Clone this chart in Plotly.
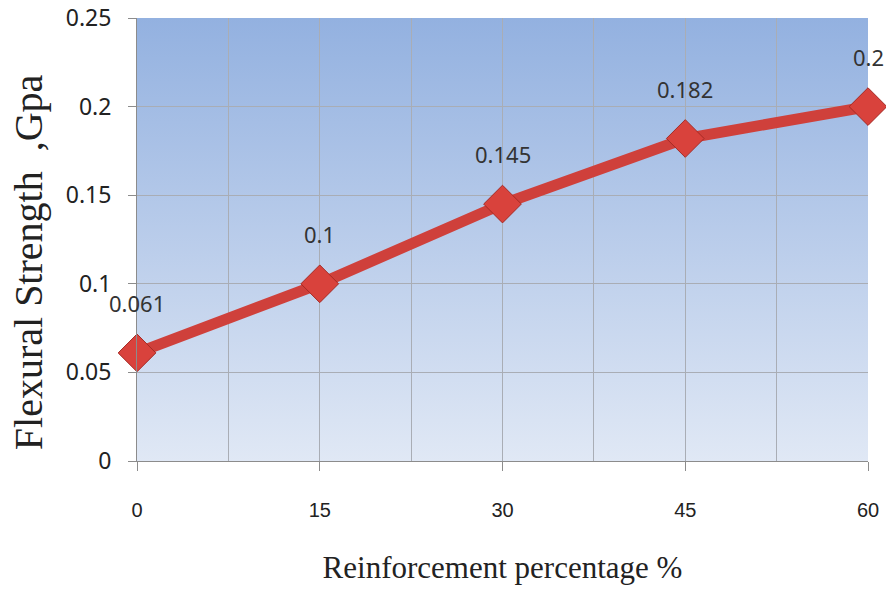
import base64
import plotly.graph_objects as go

# Flexural strength vs. reinforcement content
reinforcement_pct = [0, 15, 30, 45, 60]
flexural_gpa = [0.061, 0.1, 0.145, 0.182, 0.2]
value_labels = ["0.061", "0.1", "0.145", "0.182", "0.2"]

x_range = [0, 60]
y_range = [0, 0.25]
y_ticks = [0, 0.05, 0.1, 0.15, 0.2, 0.25]
y_tick_text = ["0", "0.05", "0.1", "0.15", "0.2", "0.25"]
x_ticks = [0, 15, 30, 45, 60]

# vertical blue gradient used as the plot-area backdrop (sits under the grid)
grad_svg = (
    '<svg xmlns="http://www.w3.org/2000/svg" width="100" height="100" preserveAspectRatio="none">'
    '<defs><linearGradient id="g" x1="0" y1="0" x2="0" y2="1">'
    '<stop offset="0" stop-color="#93b1e0"/>'
    '<stop offset="1" stop-color="#e0e8f5"/>'
    '</linearGradient></defs>'
    '<rect width="100" height="100" fill="url(#g)"/></svg>'
)
grad_uri = "data:image/svg+xml;base64," + base64.b64encode(grad_svg.encode()).decode()

fig = go.Figure()

fig.add_trace(go.Scatter(
    x=reinforcement_pct, y=flexural_gpa,
    mode="lines+markers",
    line=dict(color="#cf403b", width=11),
    marker=dict(symbol="diamond", size=29, color="#d9423c",
                line=dict(color="#a52a24", width=1)),
    showlegend=False, cliponaxis=False,
))

# value labels above each point
for xv, yv, lab in zip(reinforcement_pct, flexural_gpa, value_labels):
    fig.add_annotation(
        x=xv, y=yv, text=lab, showarrow=False, yshift=50,
        font=dict(family="Noto Sans, Open Sans, sans-serif", size=22, color="#333333"),
    )

# y-axis title, placed by hand so it can sit a little below centre
fig.add_annotation(
    text="Flexural Strength\u00a0 ,Gpa", textangle=-90,
    xref="paper", yref="paper", x=-0.149, y=0.449,
    xanchor="center", yanchor="middle", showarrow=False,
    font=dict(family="Liberation Serif, Times New Roman, serif", size=40, color="#222222"),
)

fig.add_layout_image(
    source=grad_uri, xref="x", yref="y",
    x=x_range[0], y=y_range[1], sizex=x_range[1] - x_range[0], sizey=y_range[1] - y_range[0],
    xanchor="left", yanchor="top", sizing="stretch", layer="below",
)

grid_col = "#a9adb5"
fig.update_xaxes(
    range=x_range, tickvals=x_ticks, ticktext=[str(v) for v in x_ticks],
    automargin=False,
    showgrid=True, gridcolor=grid_col, gridwidth=1,
    minor=dict(dtick=7.5, showgrid=True, gridcolor=grid_col, gridwidth=1, tick0=0),
    showline=True, linecolor="#8c8c8c", linewidth=1,
    ticks="outside", ticklen=9, tickcolor="#8c8c8c",
    ticklabelstandoff=22,
    tickfont=dict(family="Liberation Sans Narrow, Arial Narrow, Liberation Sans, sans-serif",
                  size=20, color="#222222"),
    title=dict(text="Reinforcement percentage %", standoff=36,
               font=dict(family="Liberation Serif, Times New Roman, serif", size=31, color="#222222")),
    zeroline=False,
)
fig.update_yaxes(
    range=y_range, tickvals=y_ticks, ticktext=y_tick_text,
    automargin=False,
    showgrid=True, gridcolor=grid_col, gridwidth=1,
    showline=True, linecolor="#8c8c8c", linewidth=1,
    ticks="outside", ticklen=8, tickcolor="#8c8c8c",
    ticklabelstandoff=12,
    tickfont=dict(family="Noto Sans, Open Sans, sans-serif", size=23, color="#222222"),
    zeroline=False,
)

fig.update_layout(
    width=886, height=589,
    margin=dict(l=137, r=18, t=18, b=128),
    paper_bgcolor="white", plot_bgcolor="white",
)

fig.write_html("out.html")
